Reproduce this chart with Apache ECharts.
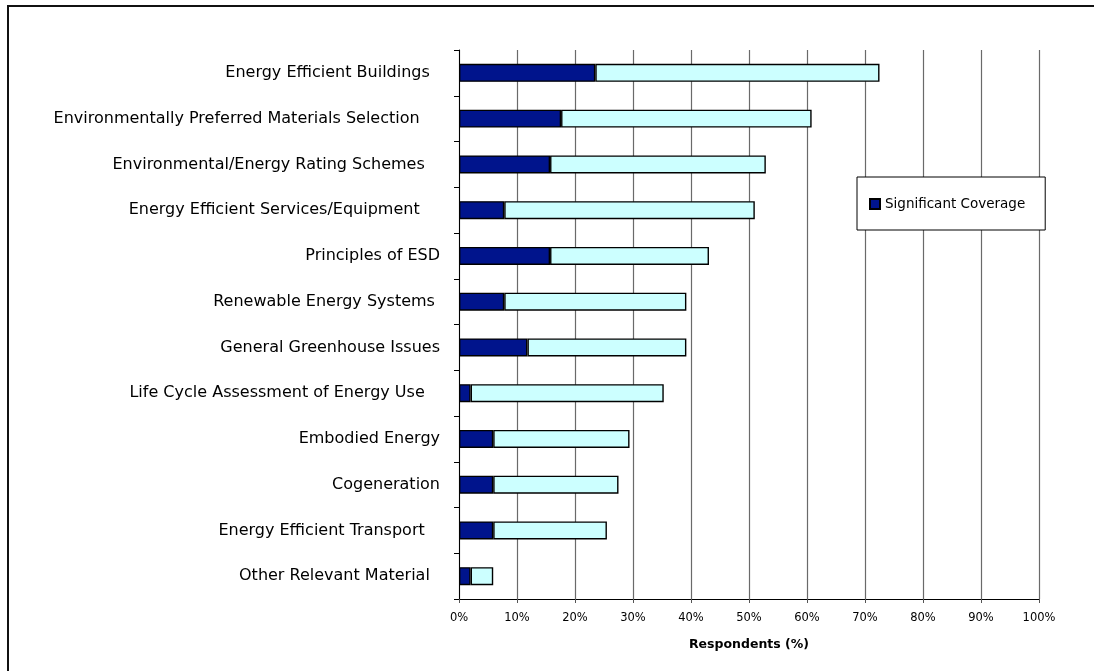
<!DOCTYPE html>
<html>
<head>
<meta charset="utf-8">
<script src="https://cdn.jsdelivr.net/npm/echarts@6/dist/echarts.min.js"></script>
<style>
  html, body { margin: 0; padding: 0; background: #fff; }
  #main { width: 1094px; height: 671px; }
</style>
</head>
<body>
<div id="main"></div>
<script>
// topics, top to bottom (trailing spaces as in the source sheet)
const topics = [
    'Energy Efficient Buildings  ',
    'Environmentally Preferred Materials Selection    ',
    'Environmental/Energy Rating Schemes   ',
    'Energy Efficient Services/Equipment    ',
    'Principles of ESD',
    'Renewable Energy Systems ',
    'General Greenhouse Issues',
    'Life Cycle Assessment of Energy Use   ',
    'Embodied Energy',
    'Cogeneration',
    'Energy Efficient Transport   ',
    'Other Relevant Material  '
];
// % of respondents
const significant = [23.5, 17.6, 15.7, 7.8, 15.7, 7.8, 11.8, 2.0, 5.9, 5.9, 5.9, 2.0];
const someCoverage = [49.0, 43.2, 37.2, 43.2, 27.4, 31.4, 27.4, 33.3, 23.5, 21.6, 19.6, 3.9];
const xTicks = [0, 10, 20, 30, 40, 50, 60, 70, 80, 90, 100];

const font = 'DejaVu Sans';
const chart = echarts.init(document.getElementById('main'));
chart.setOption({
    animation: false,
    textStyle: { fontFamily: font, color: '#000' },
    graphic: [{
        type: 'rect',
        shape: { x: 8, y: 6, width: 1200, height: 800 },
        style: { fill: 'none', stroke: '#111', lineWidth: 2 }
    }],
    grid: { left: 459, right: 55, top: 50, bottom: 72 },
    legend: {
        data: ['Significant Coverage'],
        left: 857, top: 177,
        orient: 'vertical',
        padding: [20, 20, 19, 12],
        borderColor: '#000', borderWidth: 1,
        backgroundColor: '#fff',
        itemWidth: 10, itemHeight: 10, itemGap: 5,
        icon: 'rect',
        textStyle: { fontFamily: font, fontSize: 13.5, color: '#000' }
    },
    xAxis: {
        type: 'value',
        min: xTicks[0], max: xTicks[xTicks.length - 1], interval: 10,
        name: 'Respondents (%)',
        nameLocation: 'middle',
        nameGap: 39,
        nameTextStyle: { fontFamily: font, fontSize: 12.5, fontWeight: 'bold', color: '#000' },
        axisLine: { show: true, lineStyle: { color: '#000', width: 1 } },
        axisTick: { show: true, length: 4, lineStyle: { color: '#555' } },
        axisLabel: { formatter: '{value}%', fontFamily: font, fontSize: 11.5, color: '#000', margin: 13 },
        splitLine: { show: true, lineStyle: { color: '#6a6a6a', width: 1.2 } }
    },
    yAxis: {
        type: 'category',
        data: topics,
        inverse: true,
        axisLine: { show: true, lineStyle: { color: '#000', width: 1 } },
        axisTick: { show: true, length: 5, lineStyle: { color: '#000' } },
        axisLabel: { fontFamily: font, fontSize: 16, color: '#000', margin: 19 },
        splitLine: { show: false }
    },
    series: [
        {
            name: 'Significant Coverage',
            type: 'bar',
            stack: 'cov',
            data: significant,
            barWidth: 18,
            itemStyle: { color: '#00148c', borderColor: '#000', borderWidth: 1.4 }
        },
        {
            name: 'Some Coverage',
            type: 'bar',
            stack: 'cov',
            data: someCoverage,
            barWidth: 18,
            itemStyle: { color: '#ccffff', borderColor: '#000', borderWidth: 1.4 }
        }
    ]
});
</script>
</body>
</html>
